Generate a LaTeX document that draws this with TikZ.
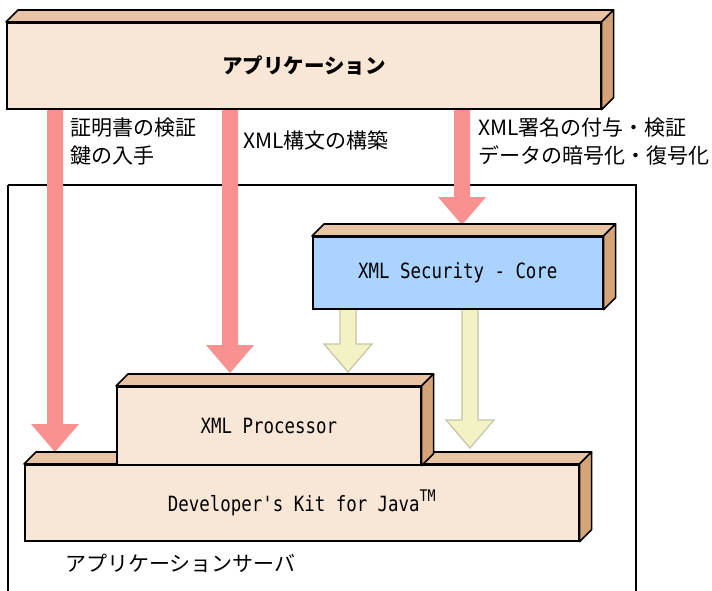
\documentclass[tikz,border=0pt]{standalone}
\usepackage{fontspec}
\setmainfont{Noto Sans CJK JP}
\newfontfamily\monof[FakeStretch=0.83]{DejaVu Sans Mono}
\definecolor{frontc}{RGB}{248,231,214}
\definecolor{topc}{RGB}{232,196,164}
\definecolor{sidec}{RGB}{212,164,120}
\definecolor{bluec}{RGB}{170,212,255}
\definecolor{redc}{RGB}{250,145,145}
\definecolor{yelc}{RGB}{242,242,196}
\definecolor{yeld}{RGB}{196,196,168}
\newcommand\blockarrow[4]{%
  \fill[#1] (#2-8,#3) -- (#2+8,#3) -- (#2+8,#4-28) -- (#2+24,#4-28) -- (#2,#4) -- (#2-24,#4-28) -- (#2-8,#4-28) -- cycle;}
\newcommand\blockarrowd[4]{%
  \filldraw[#1] (#2-8,#3) -- (#2+8,#3) -- (#2+8,#4-28) -- (#2+24,#4-28) -- (#2,#4) -- (#2-24,#4-28) -- (#2-8,#4-28) -- cycle;}
\begin{document}
\begin{tikzpicture}[x=1pt,y=-1pt,
  front/.style={draw=black, line width=1.6pt, anchor=north west, inner sep=0pt, font=\monof\fontsize{21}{24}\selectfont},
  facebox/.style={draw=black, line width=1.6pt, line join=round},
  lbl/.style={anchor=north west, align=left, inner sep=0pt, font=\fontsize{21}{28}\selectfont},
  redarrow/.style={fill=redc},
  yelarrow/.style={fill=yelc, draw=yeld, line width=1.2pt}]
\useasboundingbox (0,0) rectangle (712,590);
% application server frame
\draw[line width=1.2pt] (8,185) -- (8,600) (8,185) -- (636,185) -- (636,600);
\node[anchor=west, inner sep=0pt, font=\fontsize{21}{24}\selectfont] (srv) at (65,563) {アプリケーションサーバ};
% arrows
\blockarrow{redarrow}{55}{109}{452}
\blockarrow{redarrow}{230}{109}{373}
\blockarrow{redarrow}{462}{109}{225}
\blockarrowd{yelarrow}{348}{309}{372}
\blockarrowd{yelarrow}{470}{309}{448}
% labels
\node[lbl] (l1) at (70,118) {証明書の検証\\鍵の入手};
\node[lbl] (l2) at (243,131) {XML構文の構築};
\node[lbl] (l3) at (478,118) {XML署名の付与・検証\\データの暗号化・復号化};
% application box
\node[front, fill=frontc, minimum width=594pt, minimum height=86pt, font=\bfseries\fontsize{20.5}{24}\selectfont] (app) at (6,22) {アプリケーション};
\draw[facebox, fill=topc] (app.north west) -- ++(12,-12) -- ([shift={(12,-12)}]app.north east) -- (app.north east) -- cycle;
\draw[facebox, fill=sidec] (app.north east) -- ++(12,-12) -- ([shift={(12,-12)}]app.south east) -- (app.south east) -- cycle;
% security box
\node[front, fill=bluec, minimum width=290pt, minimum height=72pt] (sec) at (312,236) {XML Security - Core};
\draw[facebox, fill=topc] (sec.north west) -- ++(12,-12) -- ([shift={(12,-12)}]sec.north east) -- (sec.north east) -- cycle;
\draw[facebox, fill=sidec] (sec.north east) -- ++(12,-12) -- ([shift={(12,-12)}]sec.south east) -- (sec.south east) -- cycle;
% developer's kit box
\node[front, fill=frontc, minimum width=554pt, minimum height=76pt] (jdk) at (24,464) {Developer's Kit for Java\raisebox{0.5em}{\fontsize{16}{16}\selectfont TM}};
\draw[facebox, fill=topc] (jdk.north west) -- ++(12,-12) -- ([shift={(12,-12)}]jdk.north east) -- (jdk.north east) -- cycle;
\draw[facebox, fill=sidec] (jdk.north east) -- ++(12,-12) -- ([shift={(12,-12)}]jdk.south east) -- (jdk.south east) -- cycle;
% xml processor box
\node[front, fill=frontc, minimum width=304pt, minimum height=78pt] (xp) at (116,386) {XML Processor};
\draw[facebox, fill=topc] (xp.north west) -- ++(12,-12) -- ([shift={(12,-12)}]xp.north east) -- (xp.north east) -- cycle;
\draw[facebox, fill=sidec] (xp.north east) -- ++(12,-12) -- ([shift={(12,-12)}]xp.south east) -- (xp.south east) -- cycle;
\end{tikzpicture}
\end{document}
